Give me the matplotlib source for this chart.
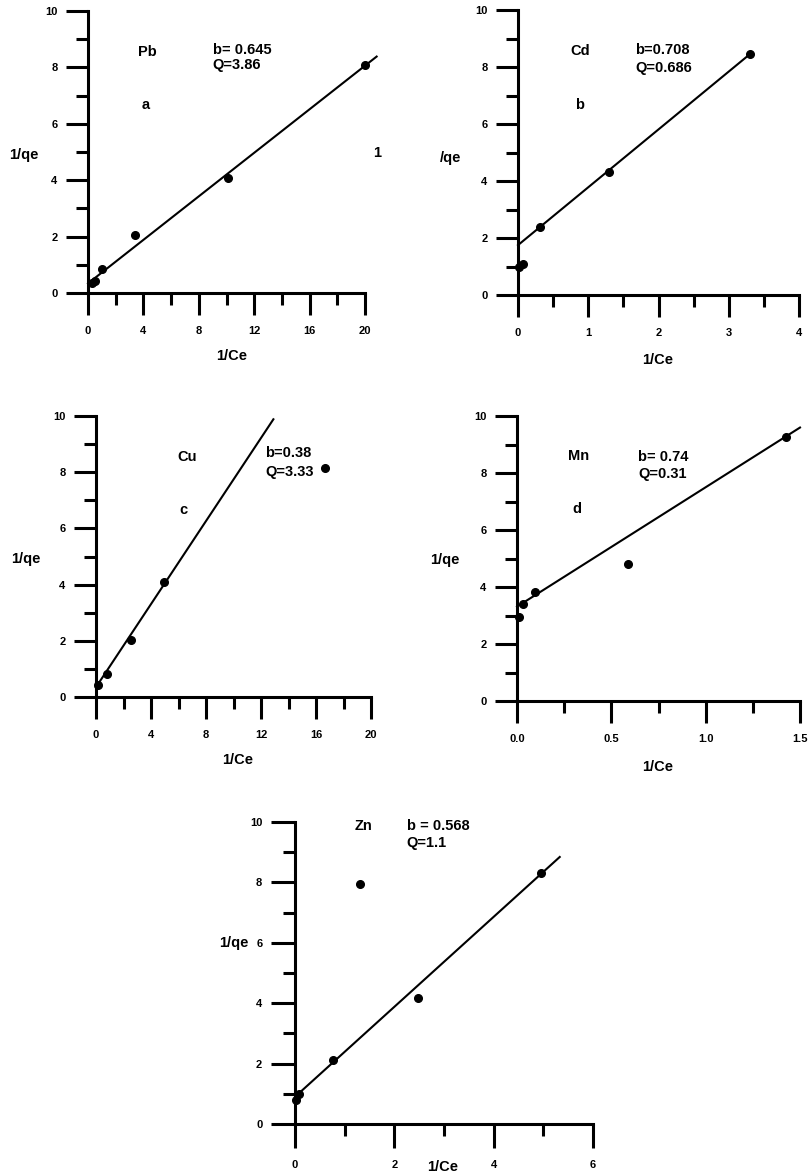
import matplotlib
matplotlib.use("Agg")
import matplotlib.pyplot as plt
import numpy as np
from matplotlib.ticker import MultipleLocator, FixedLocator

plt.rcParams['font.family'] = ['Liberation Sans', 'DejaVu Sans']
plt.rcParams['font.weight'] = 'bold'

# ---- Langmuir linearisation data: 1/Ce vs 1/qe ----
pb_x = [0.27, 0.5, 1.03, 3.39, 10.08, 20.0]
pb_y = [0.34, 0.42, 0.86, 2.06, 4.07, 8.09]
pb_fit = [0.34, 0.386, 0.0, 20.84]          # intercept, slope, x start, x end

cd_x = [0.02, 0.07, 0.31, 1.30, 3.30]
cd_y = [0.97, 1.08, 2.37, 4.33, 8.46]
cd_fit = [1.75, 2.03, 0.0, 3.30]

cu_x = [0.12, 0.78, 2.52, 4.97, 16.65]
cu_y = [0.43, 0.82, 2.03, 4.08, 8.14]
cu_fit = [0.35, 0.739, 0.0, 12.9]

mn_x = [0.011, 0.03, 0.095, 0.59, 1.426]
mn_y = [2.93, 3.39, 3.84, 4.81, 9.27]
mn_fit = [3.31, 4.19, 0.0, 1.5]

zn_x = [0.013, 0.09, 0.77, 1.31, 2.48, 4.96]
zn_y = [0.79, 0.99, 2.12, 7.95, 4.16, 8.32]
zn_fit = [0.9, 1.49, 0.02, 5.33]

metals = ["Pb", "Cd", "Cu", "Mn", "Zn"]
b_labels = ["b= 0.645", "b=0.708", "b=0.38", "b= 0.74", "b = 0.568"]
q_labels = ["Q=3.86", "Q=0.686", "Q=3.33", "Q=0.31", "Q=1.1"]
letters = ["a", "b", "c", "d", ""]
ylabels = ["1/qe", "/qe", "1/qe", "1/qe", "1/qe"]

x_limits = [(0, 20), (0, 4), (0, 20), (0, 1.5), (0, 6)]
x_majors = [[0, 4, 8, 12, 16, 20], [0, 1, 2, 3, 4], [0, 4, 8, 12, 16, 20],
            [0.0, 0.5, 1.0, 1.5], [0, 2, 4, 6]]
x_ticklabels = [["0", "4", "8", "12", "16", "20"], ["0", "1", "2", "3", "4"],
                ["0", "4", "8", "12", "16", "20"], ["0.0", "0.5", "1.0", "1.5"],
                ["0", "2", "4", "6"]]
x_minor_step = [2, 0.5, 2, 0.25, 1]
y_majors = [0, 2, 4, 6, 8, 10]

W, H = 809, 1176
fig = plt.figure(figsize=(W / 100, H / 100), dpi=100)

# axes rectangles in pixels: left, right, top, bottom
rects = [(88, 365, 11, 293), (518, 799, 10, 295), (96, 371, 416, 697),
         (517, 800, 416, 701), (295, 593, 822, 1124)]

# text placements (data coords) per panel
metal_pos = [(3.6, 8.55), (0.74, 8.56), (5.9, 8.55), (0.27, 8.6), (1.21, 9.87)]
b_pos = [(9.0, 8.6), (1.67, 8.6), (12.3, 8.68), (0.643, 8.57), (2.25, 9.87)]
q_pos = [(9.0, 8.1), (1.67, 7.96), (12.3, 8.0), (0.643, 7.96), (2.25, 9.3)]
letter_pos = [(3.9, 6.67), (0.81, 6.67), (6.1, 6.65), (0.295, 6.73), None]
ylabel_pos = [(-0.23, 0.49), (-0.24, 0.48), (-0.255, 0.49), (-0.254, 0.495), (-0.205, 0.60)]
xlabel_pos = [(0.52, -0.223), (0.498, -0.228), (0.516, -0.224), (0.498, -0.23), (0.497, -0.142)]

xs = [pb_x, cd_x, cu_x, mn_x, zn_x]
ys = [pb_y, cd_y, cu_y, mn_y, zn_y]
fits = [pb_fit, cd_fit, cu_fit, mn_fit, zn_fit]

FS = 10.5

for i in range(5):
    l, r, t, b = rects[i]
    ax = fig.add_axes([l / W, 1 - b / H, (r - l) / W, (b - t) / H])
    ax.set_xlim(*x_limits[i])
    ax.set_ylim(0, 10)
    for s in ("top", "right"):
        ax.spines[s].set_visible(False)
    for s in ("left", "bottom"):
        ax.spines[s].set_linewidth(2.2)
    big = (i == 4)
    ax.xaxis.set_major_locator(FixedLocator(x_majors[i]))
    ax.set_xticklabels(x_ticklabels[i])
    ax.xaxis.set_minor_locator(MultipleLocator(x_minor_step[i]))
    ax.yaxis.set_major_locator(FixedLocator(y_majors))
    ax.set_yticklabels([str(v) for v in y_majors])
    ax.yaxis.set_minor_locator(MultipleLocator(1))
    ax.tick_params(which="major", direction="out", length=17 if big else 15.5,
                   width=2.2, labelsize=8)
    ax.tick_params(axis="x", which="major", pad=9 if big else 8.5)
    ax.tick_params(axis="y", which="major", pad=6.5)
    ax.tick_params(which="minor", direction="out", length=8.5, width=2.2)
    for lab in ax.get_xticklabels() + ax.get_yticklabels():
        lab.set_fontweight("bold")

    # fitted line
    c0, c1, xa, xb = fits[i]
    fx = np.array([xa, xb])
    ax.plot(fx, c0 + c1 * fx, color="black", lw=1.5, clip_on=False, zorder=2)
    # measured points
    ax.plot(xs[i], ys[i], "o", color="black", ms=5.5, clip_on=False, zorder=3)

    tkw = dict(fontsize=FS, fontweight="bold", va="center", ha="left")
    ax.text(*metal_pos[i], metals[i], **tkw)
    ax.text(*b_pos[i], b_labels[i], **tkw)
    ax.text(*q_pos[i], q_labels[i], **tkw)
    if letter_pos[i] is not None:
        ax.text(*letter_pos[i], letters[i], **tkw)
    ax.text(*ylabel_pos[i], ylabels[i], transform=ax.transAxes, fontsize=FS,
            fontweight="bold", ha="center", va="center")
    ax.text(*xlabel_pos[i], "1/Ce", transform=ax.transAxes, fontsize=FS,
            fontweight="bold", ha="center", va="center")
    if i == 0:
        ax.text(20.85, 4.96, "1", fontsize=FS, fontweight="bold",
                ha="center", va="center", clip_on=False)

fig.savefig("out.png", dpi=100)
